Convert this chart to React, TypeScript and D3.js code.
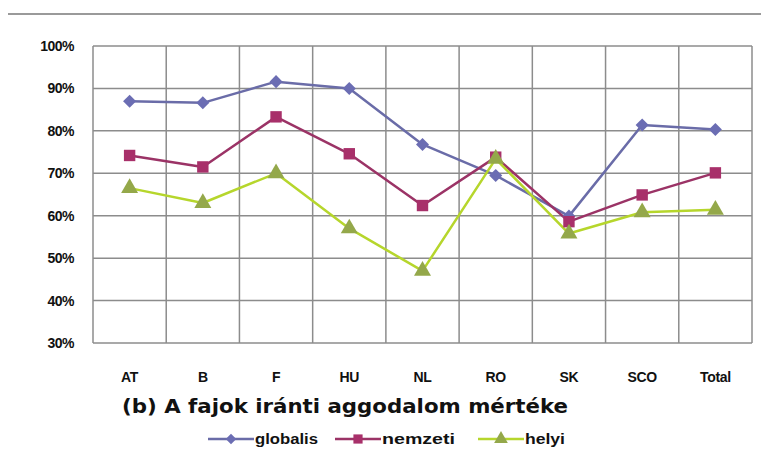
import React, { useEffect, useRef } from "react";
import * as d3 from "d3";

const categories = ["AT", "B", "F", "HU", "NL", "RO", "SK", "SCO", "Total"];
const globalis = [87.0, 86.6, 91.6, 90.0, 76.8, 69.5, 59.9, 81.4, 80.3];
const nemzeti = [74.2, 71.5, 83.3, 74.6, 62.4, 73.8, 58.6, 64.9, 70.1];
const helyi = [66.5, 63.0, 70.0, 57.0, 47.0, 73.4, 55.8, 60.8, 61.4];
const yTicks = [30, 40, 50, 60, 70, 80, 90, 100];
const seriesNames = ["globalis", "nemzeti", "helyi"];

const W = 761;
const H = 458;
const M = { left: 93, right: 752, top: 46, bottom: 343 };

const series = [
  { name: seriesNames[0], values: globalis, line: "#6a6ca8", fill: "#6b6db3", shape: "diamond" },
  { name: seriesNames[1], values: nemzeti, line: "#9b3366", fill: "#a8306a", shape: "square" },
  { name: seriesNames[2], values: helyi, line: "#b6d62c", fill: "#94a84a", shape: "triangle" },
];

// excel-ish markers: diamond is a square turned 45deg
function marker(shape: string, scale: number) {
  if (shape === "diamond") return { d: d3.symbol().type(d3.symbolSquare).size(85 * scale)(), rot: 45 };
  if (shape === "square") return { d: d3.symbol().type(d3.symbolSquare).size(130 * scale)(), rot: 0 };
  return { d: d3.symbol().type(d3.symbolTriangle).size(125 * scale)(), rot: 0 };
}

const legendWidths = [63, 73, 40];

export default function App() {
  const ref = useRef<SVGSVGElement>(null);

  useEffect(() => {
    const svg = d3.select(ref.current);
    svg.selectAll("*").remove();

    const x = d3.scaleBand().domain(categories).range([M.left, M.right]);
    const y = d3.scaleLinear().domain([30, 100]).range([M.bottom, M.top]);

    // top rule
    svg.append("line")
      .attr("x1", 8).attr("x2", W).attr("y1", 14).attr("y2", 14)
      .attr("stroke", "#9a9a9a").attr("stroke-width", 2);

    const grid = svg.append("g").attr("stroke", "#8c8c8c").attr("stroke-width", 1.5);
    yTicks.forEach(t => {
      grid.append("line")
        .attr("x1", M.left).attr("x2", M.right)
        .attr("y1", y(t)).attr("y2", y(t));
    });
    const bounds = categories.map(c => x(c) as number).concat([M.right]);
    bounds.forEach(b => {
      grid.append("line")
        .attr("x1", b).attr("x2", b)
        .attr("y1", M.top).attr("y2", M.bottom);
    });

    // y labels
    svg.append("g")
      .selectAll("text")
      .data(yTicks)
      .join("text")
      .attr("x", 74)
      .attr("y", d => y(d) + 5)
      .attr("text-anchor", "end")
      .attr("font-family", "Liberation Sans, Arial, sans-serif")
      .attr("font-weight", "bold")
      .attr("font-size", 14)
      .attr("letter-spacing", -0.5)
      .attr("fill", "#111")
      .text(d => d + "%");

    // x labels
    svg.append("g")
      .selectAll("text")
      .data(categories)
      .join("text")
      .attr("x", d => (x(d) as number) + x.bandwidth() / 2)
      .attr("y", 382)
      .attr("text-anchor", "middle")
      .attr("font-family", "Liberation Sans, Arial, sans-serif")
      .attr("font-weight", "bold")
      .attr("font-size", 14)
      .attr("letter-spacing", -0.3)
      .attr("fill", "#111")
      .text(d => d);

    const cx = (i: number) => (x(categories[i]) as number) + x.bandwidth() / 2;
    const line = d3.line<number>().x((_, i) => cx(i)).y(d => y(d));

    series.forEach(s => {
      svg.append("path")
        .attr("d", line(s.values))
        .attr("fill", "none")
        .attr("stroke", s.line)
        .attr("stroke-width", 2.5)
        .attr("stroke-linejoin", "round");
    });
    series.forEach(s => {
      const m = marker(s.shape, 1);
      svg.append("g")
        .selectAll("path")
        .data(s.values)
        .join("path")
        .attr("transform", (d, i) => `translate(${cx(i)},${y(d)}) rotate(${m.rot})`)
        .attr("d", m.d)
        .attr("fill", s.fill);
    });

    // title
    svg.append("text")
      .attr("x", 122)
      .attr("y", 413)
      .attr("font-family", "DejaVu Sans, sans-serif")
      .attr("font-weight", "bold")
      .attr("font-size", 20)
      .attr("textLength", 446)
      .attr("lengthAdjust", "spacingAndGlyphs")
      .attr("fill", "#111")
      .text("(b) A fajok iránti aggodalom mértéke");

    // legend
    const legendX = [208, 335, 478];
    series.forEach((s, i) => {
      const g = svg.append("g").attr("transform", `translate(${legendX[i]},439)`);
      g.append("line").attr("x1", 0).attr("x2", 46).attr("y1", 0).attr("y2", 0)
        .attr("stroke", s.line).attr("stroke-width", 2.5);
      const m = marker(s.shape, 0.65);
      g.append("path")
        .attr("transform", `translate(23,0) rotate(${m.rot})`)
        .attr("d", m.d)
        .attr("fill", s.fill);
      g.append("text")
        .attr("x", 47)
        .attr("y", 5)
        .attr("font-family", "Liberation Sans, Arial, sans-serif")
        .attr("font-weight", "bold")
        .attr("font-size", 14)
        .attr("textLength", legendWidths[i])
        .attr("lengthAdjust", "spacingAndGlyphs")
        .attr("fill", "#111")
        .text(s.name);
    });
  }, []);

  return (
    <svg
      ref={ref}
      width={W}
      height={H}
      style={{ position: "absolute", left: 0, top: 0, background: "#fff" }}
    />
  );
}
